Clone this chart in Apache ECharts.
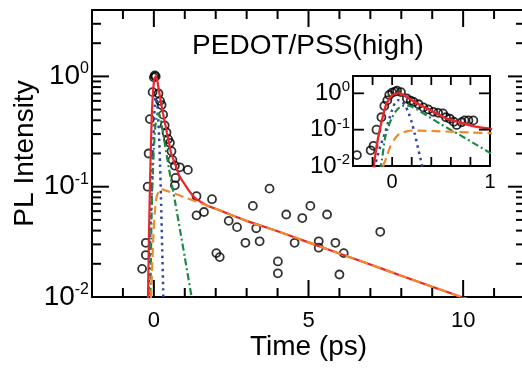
<!DOCTYPE html>
<html><head><meta charset="utf-8">
<script src="https://cdn.jsdelivr.net/npm/echarts@6/dist/echarts.min.js"></script>
<style>html,body{margin:0;padding:0;background:#fff}#c{width:522px;height:370px}</style>
</head><body><div id="c"></div>
<script>
// ---------- data ----------
const titleText = 'PEDOT/PSS(high)';
const xName = 'Time (ps)';
const yName = 'PL Intensity';

// main panel measured points
const mainX = [-0.38,-0.26,-0.26,-0.2,-0.17,-0.13,-0.04,0.0,0.03,0.06,0.15,0.2,0.25,0.3,0.35,0.41,0.46,0.52,0.57,0.6,0.68,0.84,1.1,0.7,0.68,
  1.38,1.38,1.62,1.88,2.02,2.13,2.42,2.69,2.96,3.2,3.31,3.42,3.74,4.01,4.01,4.28,4.55,4.8,5.06,5.33,5.33,5.6,5.87,6.0,6.14,7.32];
const mainY = [0.018,0.024,0.031,0.1,0.2,0.41,0.72,0.98,1.02,1.0,0.70,0.6,0.55,0.45,0.36,0.31,0.27,0.25,0.21,0.175,0.155,0.15,0.142,0.12,0.103,
  0.082,0.055,0.059,0.077,0.025,0.023,0.049,0.043,0.031,0.067,0.042,0.032,0.096,0.021,0.0164,0.056,0.031,0.052,0.067,0.032,0.028,0.056,0.031,0.016,0.025,0.039];

// inset measured points
const insetX = [-0.36,-0.22,-0.19,-0.16,-0.11,-0.08,-0.05,-0.03,0.0,0.03,0.05,0.09,0.15,0.19,0.22,0.27,0.32,0.37,0.42,0.47,0.52,0.55,0.59,0.63,0.66,0.71,0.74,0.78,0.83];
const insetY = [0.02,0.027,0.036,0.1,0.22,0.45,0.64,0.9,1.05,1.12,1.18,1.08,0.72,0.63,0.58,0.5,0.41,0.36,0.31,0.29,0.28,0.22,0.2,0.165,0.135,0.16,0.18,0.18,0.18];

// fit curves (total and components)
const redX = [-0.25,-0.19,-0.16,-0.12,-0.07,-0.03,0.0,0.03,0.065,0.1,0.15,0.22,0.29,0.36,0.42,0.49,0.56,0.69,0.83,1.0,1.16,1.38,1.7,2.0,3.0,4.0,5.0,6.0,7.0,8.0,9.0,10.03,10.5];
const redY = [0.004,0.01,0.034,0.12,0.42,0.7,0.88,0.97,1.0,0.95,0.79,0.6,0.47,0.38,0.31,0.25,0.2,0.16,0.125,0.105,0.09,0.077,0.068,0.063,0.049,0.0395,0.0313,0.0248,0.0197,0.0156,0.0124,0.0098,0.0088];
const blueX = [-0.22,-0.17,-0.12,-0.07,-0.03,0.0,0.03,0.06,0.1,0.14,0.17,0.2,0.23,0.27,0.3,0.33,0.36];
const blueY = [0.004,0.012,0.035,0.087,0.2,0.35,0.55,0.65,0.6,0.42,0.28,0.16,0.079,0.027,0.012,0.0055,0.0025];
const greenX = [-0.15,-0.105,-0.07,-0.03,0.0,0.04,0.08,0.12,0.16,0.2,0.28,0.35,0.49,0.69,0.85,1.0,1.22,1.3];
const greenY = [0.003,0.0145,0.064,0.14,0.22,0.33,0.42,0.46,0.46,0.43,0.33,0.25,0.145,0.072,0.04,0.023,0.01,0.0076];
const orangeX = [-0.13,-0.09,-0.05,-0.02,0.03,0.08,0.15,0.22,0.3,0.45,0.6,0.8,1.0,1.38,2.0,3.0,4.0,5.0,6.0,7.0,8.0,9.0,10.03,10.5];
const orangeY = [0.004,0.01,0.02,0.034,0.058,0.079,0.09,0.095,0.094,0.091,0.088,0.084,0.080,0.073,0.063,0.049,0.0395,0.0313,0.0248,0.0197,0.0156,0.0124,0.0098,0.0088];

// tick values
const mainXMajor = [0,5,10];
const mainXMinor = [-2,-1,1,2,3,4,6,7,8,9,11,12];
const mainYMajor = [0.01,0.1,1];
const mainYMinor = [0.02,0.03,0.04,0.05,0.06,0.07,0.08,0.09,0.2,0.3,0.4,0.5,0.6,0.7,0.8,0.9,2,3,4];
const insetXTicks = [-0.4,-0.2,0,0.2,0.4,0.6,0.8,1.0];
const insetYTicks = [0.1,1];

// ---------- build ----------
const FONT = 'Liberation Sans, Arial, sans-serif';
const zip = (a,b) => a.map((v,i)=>[v,b[i]]);

function supLabel(v){
  const l = Math.log10(v), n = Math.round(l);
  if (Math.abs(l-n) > 1e-6) return '';
  return '{a|10}{b|' + n + '}';
}
function intLabel(v){
  if (Math.abs(v - Math.round(v)) > 1e-6) return '';
  if (Math.round(v) % 5 !== 0) return '';
  return String(Math.round(v));
}
function intLabelAll(v){
  if (Math.abs(v - Math.round(v)) > 1e-6) return '';
  return String(Math.round(v));
}

function tickItems(xMaj, xMin, yMaj, yMin, majLen, minLen, xRef, yRef){
  const out = [];
  xMaj.forEach(v=>{ out.push([v,yRef,0,majLen]); out.push([v,yRef,1,majLen]); });
  xMin.forEach(v=>{ out.push([v,yRef,0,minLen]); out.push([v,yRef,1,minLen]); });
  yMaj.forEach(v=>{ out.push([xRef,v,2,majLen]); out.push([xRef,v,3,majLen]); });
  yMin.forEach(v=>{ out.push([xRef,v,2,minLen]); out.push([xRef,v,3,minLen]); });
  return out;
}
function tickSeries(idx, data, lw){
  return {
    type:'custom', xAxisIndex:idx, yAxisIndex:idx, silent:true, z:5,
    encode:{x:0,y:1},
    data: data,
    renderItem: function(params, api){
      const cs = params.coordSys;
      const p = api.coord([api.value(0), api.value(1)]);
      const side = api.value(2), len = api.value(3);
      let s;
      if (side===0) s = {x1:p[0], y1:cs.y+cs.height, x2:p[0], y2:cs.y+cs.height-len};
      else if (side===1) s = {x1:p[0], y1:cs.y, x2:p[0], y2:cs.y+len};
      else if (side===2) s = {x1:cs.x, y1:p[1], x2:cs.x+len, y2:p[1]};
      else s = {x1:cs.x+cs.width, y1:p[1], x2:cs.x+cs.width-len, y2:p[1]};
      return {type:'line', shape:s, style:{stroke:'#000', lineWidth:lw}};
    }
  };
}

const RED = '#e8262b', ORANGE = '#f38a2a', BLUE = '#2e47a0', GREEN = '#1b8a45';
function lineSeries(idx, x, y, color, type, w){
  return {type:'line', xAxisIndex:idx, yAxisIndex:idx, data: zip(x,y), showSymbol:false, symbol:'none',
    smooth:0.25, clip:true, silent:true, lineStyle:{color:color, width:w, type:type}, z:3};
}
function scatterSeries(idx, x, y, size){
  return {type:'scatter', xAxisIndex:idx, yAxisIndex:idx, data: zip(x,y), symbol:'circle', symbolSize:size,
    silent:true, itemStyle:{color:'rgba(0,0,0,0)', borderColor:'#000', borderWidth:1.8}, z:2};
}

const chart = echarts.init(document.getElementById('c'), null, {renderer:'canvas'});
chart.setOption({
  animation:false,
  backgroundColor:'#fff',
  textStyle:{fontFamily:FONT},
  grid:[
    {left:92, top:10, width:433, height:287, show:true, borderColor:'#000', borderWidth:2, backgroundColor:'transparent', containLabel:false, outerBoundsMode:'none'},
    {left:353, top:76, width:137, height:90, show:true, borderColor:'#000', borderWidth:2, backgroundColor:'#fff', containLabel:false, outerBoundsMode:'none'}
  ],
  xAxis:[
    {gridIndex:0, type:'value', min:-2, max:12, interval:1,
      axisLine:{show:false}, axisTick:{show:false}, splitLine:{show:false},
      axisLabel:{formatter:intLabel, fontSize:22, color:'#000', fontFamily:FONT, margin:13},
      name:xName, nameLocation:'middle', nameGap:36, nameMoveOverlap:false,
      nameTextStyle:{fontSize:28, color:'#000', fontFamily:FONT}},
    {gridIndex:1, type:'value', min:-0.4, max:1, interval:0.2,
      axisLine:{show:false}, axisTick:{show:false}, splitLine:{show:false},
      axisLabel:{formatter:intLabelAll, fontSize:20, color:'#000', fontFamily:FONT, margin:6}}
  ],
  yAxis:[
    {gridIndex:0, type:'log', logBase:10, min:0.01, max:4,
      axisLine:{show:false}, axisTick:{show:false}, splitLine:{show:false}, minorTick:{show:false},
      axisLabel:{formatter:supLabel, margin:3, showMaxLabel:false, color:'#000',
        rich:{a:{fontSize:28, fontFamily:FONT, color:'#000'}, b:{fontSize:16, fontFamily:FONT, color:'#000', padding:[0,0,15,0]}}},
      name:yName, nameLocation:'middle', nameGap:53, nameMoveOverlap:false,
      nameTextStyle:{fontSize:28, color:'#000', fontFamily:FONT}},
    {gridIndex:1, type:'log', logBase:10, min:0.01, max:3,
      axisLine:{show:false}, axisTick:{show:false}, splitLine:{show:false}, minorTick:{show:false},
      axisLabel:{formatter:supLabel, margin:3, showMaxLabel:false, color:'#000',
        rich:{a:{fontSize:24, fontFamily:FONT, color:'#000'}, b:{fontSize:15, fontFamily:FONT, color:'#000', padding:[0,0,12,0]}}}}
  ],
  series:[
    scatterSeries(0, mainX, mainY, 8),
    lineSeries(0, blueX, blueY, BLUE, [2.5,4], 2.5),
    lineSeries(0, greenX, greenY, GREEN, [7,3,2,3], 2.2),
    lineSeries(0, redX, redY, RED, 'solid', 2.2),
    lineSeries(0, orangeX, orangeY, ORANGE, [9,5], 2.2),
    tickSeries(0, tickItems(mainXMajor, mainXMinor, mainYMajor, mainYMinor, 17, 9, 0, 1), 2),
    scatterSeries(1, insetX, insetY, 8),
    lineSeries(1, blueX, blueY, BLUE, [2.5,4], 2.5),
    lineSeries(1, greenX, greenY, GREEN, [7,3,2,3], 2.2),
    lineSeries(1, redX, redY, RED, 'solid', 2.4),
    lineSeries(1, orangeX, orangeY, ORANGE, [9,5], 2.2),
    tickSeries(1, tickItems([], insetXTicks, insetYTicks, [], 11, 9, 0, 1), 1.8)
  ],
  graphic:[
    {type:'text', x:308, y:46, silent:true,
      style:{text:titleText, font:'28px ' + FONT, fill:'#000', textAlign:'center', textVerticalAlign:'middle'}}
  ]
});
</script>
</body></html>
